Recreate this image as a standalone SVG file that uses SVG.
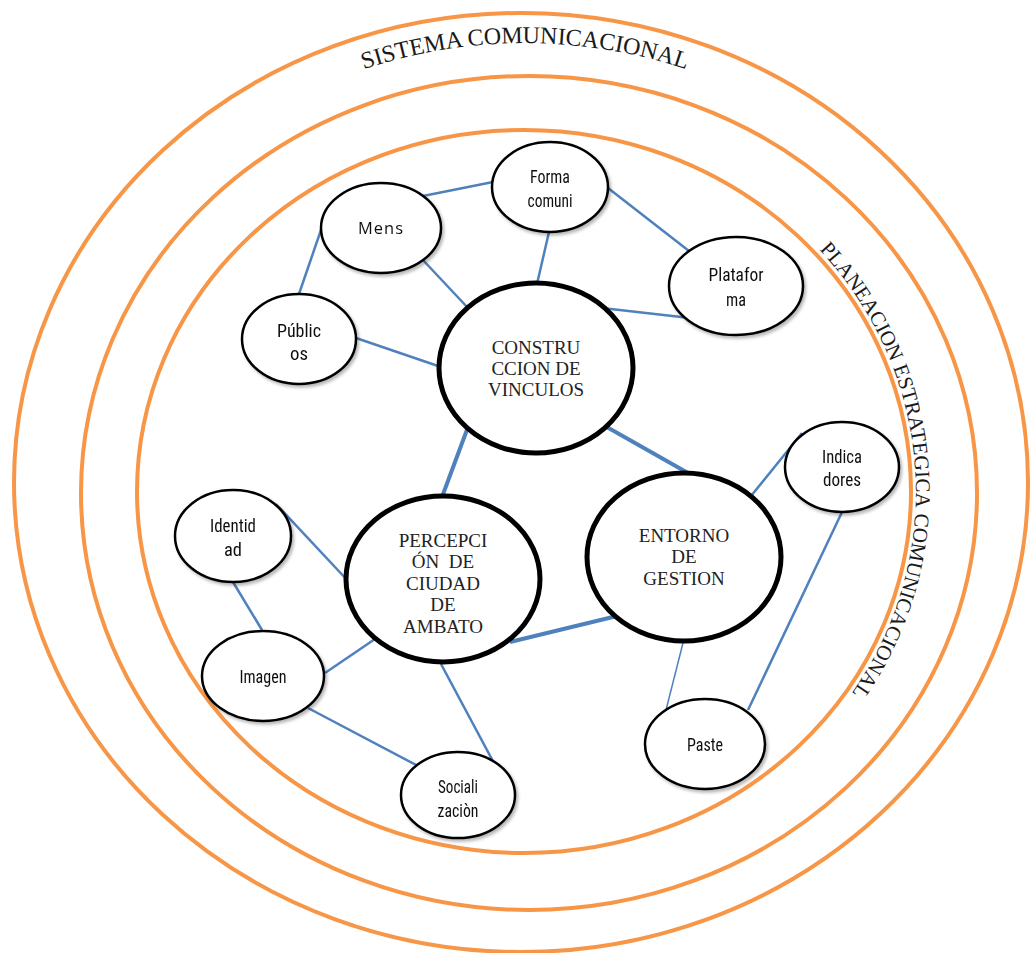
<svg xmlns="http://www.w3.org/2000/svg" width="1030" height="953" viewBox="0 0 1030 953">
<style>
.ring{fill:none;stroke:#F79646;stroke-width:4}
.arc{font-family:"Liberation Serif","Times New Roman",serif;fill:#1a1a1a}
.c{stroke:#4F81BD;stroke-width:2.5;fill:none}
.ct{stroke:#4F81BD;stroke-width:4;fill:none}
.cn{stroke:#4F81BD;stroke-width:1.5;fill:none}
.big ellipse{fill:#fff;stroke:#000;stroke-width:5}
.big text{font-family:"Liberation Serif","Times New Roman",serif;font-size:19px;fill:#222;text-anchor:middle}
.sm ellipse{fill:#fff;stroke:#000;stroke-width:2.5}
.sm text{font-family:"Liberation Sans Narrow","Roboto Condensed","DejaVu Sans Condensed","Liberation Sans",sans-serif;font-stretch:condensed;font-size:19px;fill:#111;text-anchor:middle}
.sm text.w{font-family:"Open Sans","DejaVu Sans",sans-serif;font-stretch:normal;font-size:16px;letter-spacing:1px}
</style>
<defs>
<filter id="sh" x="-20%" y="-20%" width="150%" height="150%">
<feDropShadow dx="2" dy="2.5" stdDeviation="1.5" flood-color="#000" flood-opacity="0.28"/>
</filter>
<path id="topArc" d="M 50 482.5 A 475 439.5 0 0 1 1000 482.5"/>
<path id="rightArc" d="M 524 123.5 A 392 368 0 0 1 524 859.5"/>
</defs>
<rect width="1030" height="953" fill="#fff"/>
<g id="rings">
<ellipse class="ring" cx="521" cy="482.5" rx="507" ry="469.5"/>
<ellipse class="ring" cx="529" cy="493" rx="448" ry="417"/>
<ellipse class="ring" cx="524" cy="491.5" rx="387" ry="361.5"/>
</g>
<g id="ring-labels">
<text class="arc" font-size="24"><textPath href="#topArc" startOffset="50%" text-anchor="middle" textLength="328" lengthAdjust="spacing">SISTEMA COMUNICACIONAL</textPath></text>
<text class="arc" font-size="21"><textPath href="#rightArc" startOffset="330" textLength="134" lengthAdjust="spacing">PLANEACION</textPath></text>
<text class="arc" font-size="21"><textPath href="#rightArc" startOffset="469.5" textLength="143.5" lengthAdjust="spacing">ESTRATEGICA</textPath></text>
<text class="arc" font-size="21"><textPath href="#rightArc" startOffset="618.3" textLength="193.5" lengthAdjust="spacing">COMUNICACIONAL</textPath></text>
</g>
<g id="connectors">
<line class="c" x1="423" y1="196" x2="493" y2="182"/>
<line class="c" x1="322" y1="227" x2="299" y2="294"/>
<line class="c" x1="422" y1="259" x2="468" y2="308"/>
<line class="c" x1="549" y1="232" x2="537" y2="284"/>
<line class="c" x1="608" y1="188" x2="689" y2="251"/>
<line class="c" x1="602" y1="308" x2="690" y2="318"/>
<line class="c" x1="356" y1="338" x2="441" y2="367"/>
<line class="ct" x1="468" y1="427" x2="442" y2="497"/>
<line class="ct" x1="605" y1="426" x2="688" y2="473"/>
<line class="c" x1="751" y1="496" x2="802" y2="433"/>
<line class="c" x1="843" y1="510" x2="748" y2="710"/>
<line class="cn" x1="684" y1="639" x2="666" y2="710"/>
<line class="ct" x1="510" y1="642" x2="617" y2="616"/>
<line class="c" x1="276" y1="504" x2="349" y2="582"/>
<line class="c" x1="233" y1="582" x2="262" y2="630"/>
<line class="c" x1="325" y1="673" x2="375" y2="639"/>
<line class="c" x1="308" y1="708" x2="418" y2="766"/>
<line class="c" x1="441" y1="664" x2="495" y2="765"/>
</g>
<g id="construccion" class="big">
<ellipse cx="536" cy="368" rx="97" ry="85"/>
<text x="536" y="353.5">CONSTRU</text>
<text x="536" y="374.5">CCION DE</text>
<text x="536" y="395.5">VINCULOS</text>
</g>
<g id="percepcion" class="big">
<ellipse cx="443" cy="579" rx="97" ry="83"/>
<text x="443" y="546.5">PERCEPCI</text>
<text x="443" y="567.5">ÓN&#160; DE</text>
<text x="443" y="589.5">CIUDAD</text>
<text x="443" y="610.5">DE</text>
<text x="443" y="632.5">AMBATO</text>
</g>
<g id="entorno" class="big">
<ellipse cx="684" cy="557" rx="97" ry="84"/>
<text x="684" y="541.5">ENTORNO</text>
<text x="684" y="562.5">DE</text>
<text x="684" y="584.5">GESTION</text>
</g>
<g id="forma" class="sm" filter="url(#sh)">
<ellipse cx="550" cy="187" rx="58" ry="45"/>
<text x="550" y="182.5" textLength="40" lengthAdjust="spacingAndGlyphs">Forma</text>
<text x="550" y="206.5" textLength="45" lengthAdjust="spacingAndGlyphs">comuni</text>
</g>
<g id="mens" class="sm" filter="url(#sh)">
<ellipse cx="381" cy="228" rx="60" ry="45"/>
<text class="w" x="381" y="234" textLength="46" lengthAdjust="spacingAndGlyphs">Mens</text>
</g>
<g id="plataforma" class="sm" filter="url(#sh)">
<ellipse cx="736" cy="286" rx="67" ry="49"/>
<text x="736" y="280.5" textLength="55" lengthAdjust="spacingAndGlyphs">Platafor</text>
<text x="736" y="305.5" textLength="20" lengthAdjust="spacingAndGlyphs">ma</text>
</g>
<g id="publicos" class="sm" filter="url(#sh)">
<ellipse cx="299" cy="339" rx="57" ry="45"/>
<text x="299" y="336.5" textLength="44" lengthAdjust="spacingAndGlyphs">Públic</text>
<text x="299" y="359.5" textLength="18" lengthAdjust="spacingAndGlyphs">os</text>
</g>
<g id="indicadores" class="sm" filter="url(#sh)">
<ellipse cx="842" cy="467" rx="57" ry="45"/>
<text x="842" y="462.5" textLength="40" lengthAdjust="spacingAndGlyphs">Indica</text>
<text x="842" y="485.5" textLength="38" lengthAdjust="spacingAndGlyphs">dores</text>
</g>
<g id="identidad" class="sm" filter="url(#sh)">
<ellipse cx="233" cy="536" rx="58" ry="46"/>
<text x="233" y="531.5" textLength="46" lengthAdjust="spacingAndGlyphs">Identid</text>
<text x="233" y="555.5" textLength="18" lengthAdjust="spacingAndGlyphs">ad</text>
</g>
<g id="imagen" class="sm" filter="url(#sh)">
<ellipse cx="263" cy="676" rx="61" ry="45"/>
<text x="263" y="682.5" textLength="47" lengthAdjust="spacingAndGlyphs">Imagen</text>
</g>
<g id="socializacion" class="sm" filter="url(#sh)">
<ellipse cx="458" cy="795" rx="57" ry="43"/>
<text x="458" y="792.5" textLength="40" lengthAdjust="spacingAndGlyphs">Sociali</text>
<text x="458" y="816.5" textLength="41" lengthAdjust="spacingAndGlyphs">zaciòn</text>
</g>
<g id="paste" class="sm" filter="url(#sh)">
<ellipse cx="705" cy="744" rx="60" ry="45"/>
<text x="705" y="750.5" textLength="36" lengthAdjust="spacingAndGlyphs">Paste</text>
</g>
</svg>
